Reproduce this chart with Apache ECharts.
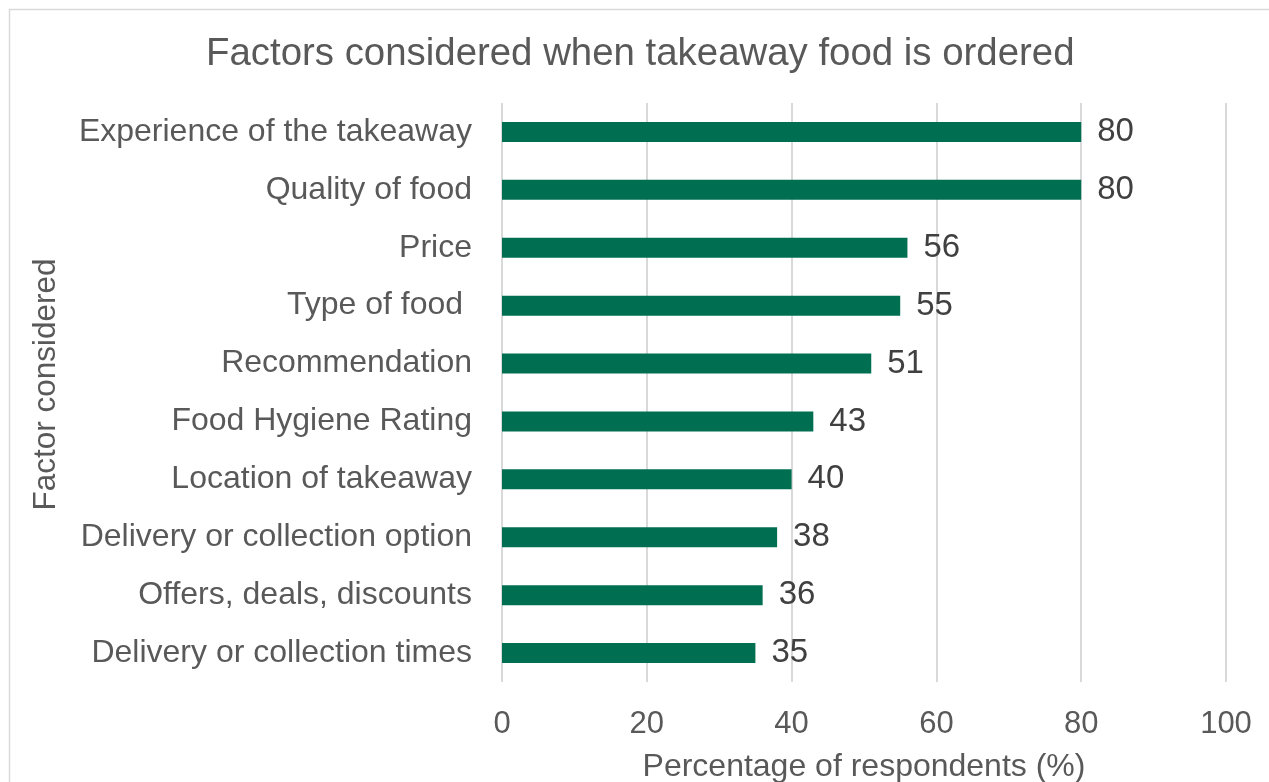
<!DOCTYPE html>
<html>
<head>
<meta charset="utf-8">
<style>
  html, body { margin: 0; padding: 0; background: #ffffff; }
  #chart { width: 1269px; height: 782px; }
</style>
<script src="https://cdn.jsdelivr.net/npm/echarts@6/dist/echarts.min.js"></script>
</head>
<body>
<div id="chart"></div>
<script>
// Survey factors, listed from the top row down
const factors = [
  'Experience of the takeaway',
  'Quality of food',
  'Price',
  'Type of food ',
  'Recommendation',
  'Food Hygiene Rating',
  'Location of takeaway',
  'Delivery or collection option',
  'Offers, deals, discounts',
  'Delivery or collection times'
];
// Share of respondents (%) for each factor
const percentages = [80, 80, 56, 55, 51, 43, 40, 38, 36, 35];
const xTicks = [0, 20, 40, 60, 80, 100];

const FONT = 'Liberation Sans, Arial, sans-serif';
const chart = echarts.init(document.getElementById('chart'));

chart.setOption({
  backgroundColor: '#ffffff',
  animation: false,
  graphic: [{
    type: 'rect',
    silent: true,
    shape: { x: 9.5, y: 9.5, width: 1300, height: 800 },
    style: { fill: 'none', stroke: '#d9d9d9', lineWidth: 1.5 }
  }],
  title: {
    text: 'Factors considered when takeaway food is ordered',
    left: 201,
    top: 30,
    textStyle: { fontFamily: FONT, fontSize: 38.4, fontWeight: 'normal', color: '#595959' }
  },
  grid: { left: 502, right: 43, top: 103, bottom: 100, containLabel: false, outerBoundsMode: 'none' },
  xAxis: {
    type: 'value',
    min: xTicks[0],
    max: xTicks[xTicks.length - 1],
    interval: xTicks[1] - xTicks[0],
    name: 'Percentage of respondents (%)',
    nameLocation: 'middle',
    nameGap: 69,
    nameTextStyle: { fontFamily: FONT, fontSize: 32, color: '#595959' },
    axisLine: { show: false },
    axisTick: { show: false },
    axisLabel: { fontFamily: FONT, fontSize: 31, color: '#595959', margin: 27 },
    splitLine: { show: true, lineStyle: { color: '#d9d9d9', width: 2 } }
  },
  yAxis: {
    type: 'category',
    data: factors,
    inverse: true,
    name: 'Factor considered',
    nameLocation: 'middle',
    nameGap: 440,
    nameRotate: 90,
    nameTextStyle: { fontFamily: FONT, fontSize: 31.5, color: '#595959', padding: [0, 0, 0, 16] },
    axisLine: { show: false },
    axisTick: { show: false },
    axisLabel: { fontFamily: FONT, fontSize: 32, color: '#595959', margin: 30 },
    splitLine: { show: false }
  },
  series: [{
    type: 'bar',
    data: percentages,
    barWidth: 20,
    itemStyle: { color: '#006F51' },
    label: {
      show: true,
      position: 'right',
      distance: 16,
      fontFamily: FONT,
      fontSize: 33,
      color: '#404040'
    }
  }]
});
</script>
</body>
</html>
